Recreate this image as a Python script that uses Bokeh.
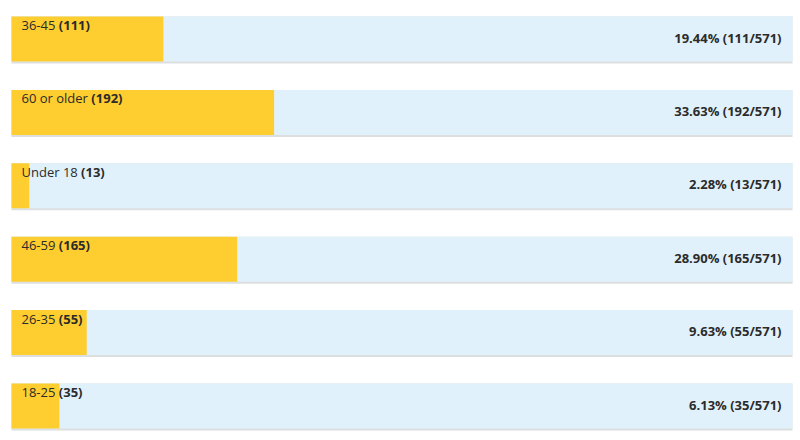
from bokeh.plotting import figure
from bokeh.models import ColumnDataSource, Range1d
from bokeh.core.properties import value
from bokeh.embed import file_html
from bokeh.resources import INLINE

# Survey answers: age groups and how many respondents picked each
categories = ["36-45", "60 or older", "Under 18", "46-59", "26-35", "18-25"]
counts = [111, 192, 13, 165, 55, 35]

total = sum(counts)
shares = [c / total for c in counts]

# Open Sans Regular advance widths (units per em = 2048), used to place
# the bold count right after the plain category name
ADV = {" ": 532, "(": 604, ")": 604, "-": 659, "U": 1479, "n": 1257,
       "d": 1255, "e": 1149, "r": 836, "o": 1237, "l": 518}
FONT_PX = 13


def text_width(s):
    return sum(ADV.get(ch, 1171) for ch in s) * FONT_PX / 2048


PITCH = 73.4      # vertical distance between rows, px
BAR_H = 45        # bar thickness, px
BORDER = 2        # grey rule under each bar, px
LEFT, RIGHT = 11, 792
W, H = 800, 440
first_center = 16 + BAR_H / 2

idx = list(range(len(categories)))
prefixes = [c + " " for c in categories]
source = ColumnDataSource(dict(
    y=idx,
    y_rule=[i + BORDER / 2 / PITCH for i in idx],
    share=shares,
    zero=[0] * len(idx),
    one=[1] * len(idx),
    prefix=prefixes,
    count_txt=["(%d)" % c for c in counts],
    count_off=[10 + text_width(p) for p in prefixes],
    right_txt=["%.2f%% (%d/%d)" % (100 * c / total, c, total) for c in counts],
))

span = RIGHT - LEFT
p = figure(width=W, height=H, output_backend="svg", toolbar_location=None,
           x_range=Range1d(-LEFT / span, (W - LEFT) / span),
           y_range=Range1d((H - first_center) / PITCH, -first_center / PITCH),
           x_axis_type=None, y_axis_type=None, min_border=0)
p.outline_line_color = None
p.xgrid.visible = False
p.ygrid.visible = False
p.background_fill_color = "white"
p.border_fill_color = "white"

# grey rule, light-blue track, yellow share
p.hbar(y="y_rule", left="zero", right="one", height=(BAR_H + BORDER) / PITCH,
       source=source, fill_color="#dcdedf", line_color=None)
p.hbar(y="y", left="zero", right="one", height=BAR_H / PITCH,
       source=source, fill_color="#e0f1fb", line_color=None)
p.hbar(y="y", left="zero", right="share", height=BAR_H / PITCH,
       source=source, fill_color="#fecd2f", line_color=None)

font = value("Open Sans")
p.text(x="zero", y="y", text="prefix", source=source, x_offset=10, y_offset=-14,
       text_font=font, text_font_size="13px", text_color="#2b2b2b",
       text_baseline="alphabetic", text_align="left")
p.text(x="zero", y="y", text="count_txt", source=source, x_offset="count_off",
       y_offset=-14, text_font=font, text_font_size="13px", text_font_style="bold",
       text_color="#2b2b2b", text_baseline="alphabetic", text_align="left")
p.text(x="one", y="y", text="right_txt", source=source, x_offset=-11, y_offset=-1.5,
       text_font=font, text_font_size="13px", text_font_style="bold",
       text_color="#2b2b2b", text_baseline="alphabetic", text_align="right")

open("out.html", "w").write(file_html(p, INLINE))
